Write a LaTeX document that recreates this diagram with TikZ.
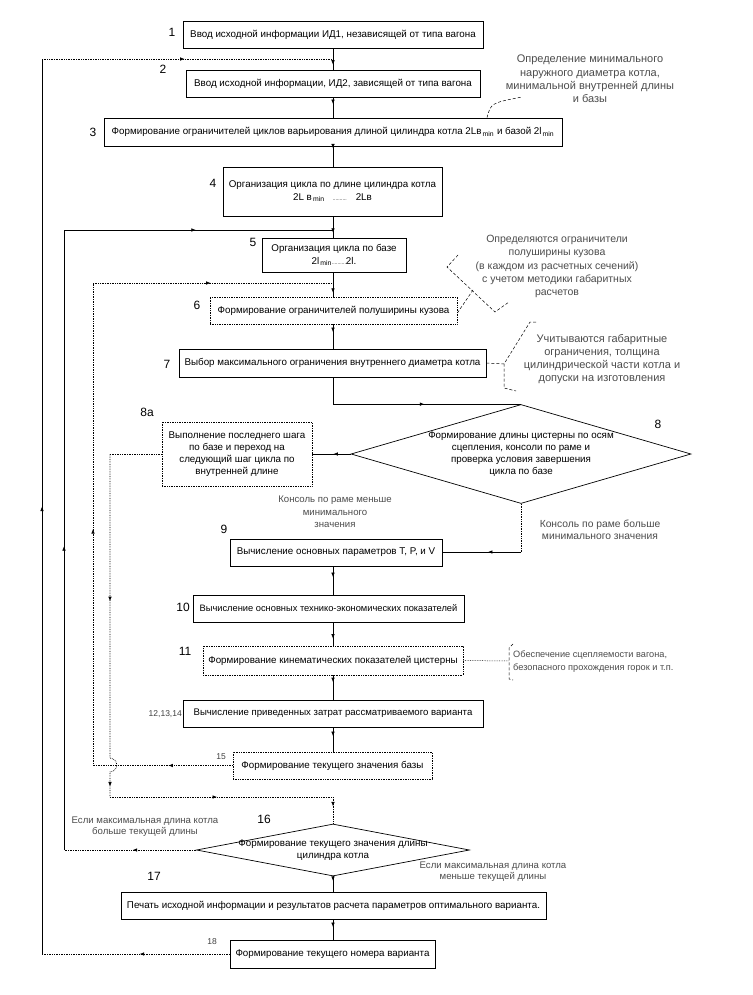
\documentclass[tikz,border=0pt]{standalone}
\usepackage{fontspec}
\setmainfont{Liberation Sans}
\usetikzlibrary{shapes.geometric,arrows.meta,decorations.markings}
\newcommand\lowsub[1]{\textsubscript{\,#1}}
\begin{document}
\begin{tikzpicture}[x=1pt,y=-1pt,
  box/.style={draw, line width=0.7pt, inner sep=0pt, align=center, font=\fontsize{9.8}{12.5}\selectfont},
  dbox/.style={box, densely dotted},
  wh/.style 2 args={minimum width=#1pt, minimum height=#2pt},
  ln/.style={line width=0.7pt},
  dl/.style={line width=0.7pt, densely dotted},
  ann/.style={font=\fontsize{10}{13.3}\selectfont, text=black!70, align=center, inner sep=0pt},
  num/.style={font=\fontsize{12}{12}\selectfont, inner sep=0pt},
  snum/.style={font=\fontsize{8.5}{9}\selectfont, text=black!75, inner sep=0pt},
  ma/.style={postaction={decorate,decoration={markings,mark=at position #1 with {\arrow{Latex[length=4.5pt,width=3.6pt]}}}}},
  ma/.default=0.5
]
\useasboundingbox (0,0) rectangle (752,995);
\fill[white] (0,0) rectangle (752,995);

% main axis and corner coordinates
\coordinate (mx) at (333,0);
\coordinate (L1) at (42,59);
\coordinate (j1) at (333,59);
\coordinate (L2) at (64,230);
\coordinate (j2) at (333,230);
\coordinate (L3) at (93,283);
\coordinate (j3) at (333,283);
\coordinate (c4a) at (110,454);
\coordinate (c4b) at (110,797);
\coordinate (c4c) at (333,797);
\coordinate (c8) at (521,552);

% boxes
\node[box, wh={300}{27}] (b1) at (333,34.5) {Ввод исходной информации ИД1, независящей от типа вагона};
\node[box, wh={294}{27}] (b2) at (333,83.5) {Ввод исходной информации, ИД2, зависящей от типа вагона};
\node[box, wh={458}{28}] (b3) at (333,132) {Формирование ограничителей циклов варьирования длиной цилиндра котла 2Lв\lowsub{min} и базой 2l\lowsub{min}};
\node[box, wh={219}{49}] (b4) at (332.5,191.5) {Организация цикла по длине цилиндра котла\\2L в\lowsub{min} \ \ {\tiny ..........} \ \ 2Lв};
\node[box, wh={144}{34}] (b5) at (334,255) {Организация цикла по базе\\2l\lowsub{min}{\tiny ..........}2l.};
\node[dbox, wh={247}{27}] (b6) at (333.5,310.5) {Формирование ограничителей полуширины кузова};
\node[box, wh={307}{28}] (b7) at (332.5,363) {Выбор максимального ограничения внутреннего диаметра котла};
\node[draw, ln, diamond, minimum width=340pt, minimum height=99pt, inner sep=0pt,
      label={[align=center, font=\fontsize{9.8}{11.8}\selectfont]center:Формирование длины цистерны по осям\\сцепления, консоли по раме и\\проверка условия завершения\\цикла по базе}] (d8) at (521,454) {};
\node[dbox, wh={150}{64}, font=\fontsize{9.8}{12}\selectfont] (b8a) at (237,454) {Выполнение последнего шага\\по базе и переход на\\следующий шаг цикла по\\внутренней длине};
\node[box, wh={212}{27}] (b9) at (336,552.5) {Вычисление основных параметров T, P, и V};
\node[box, wh={271}{27}, font=\fontsize{9.3}{12}\selectfont] (b10) at (328.5,608.5) {Вычисление основных технико-экономических показателей};
\node[dbox, wh={260}{29}] (b11) at (333,660.5) {Формирование кинематических показателей цистерны};
\node[box, wh={300}{27}, font=\fontsize{9.6}{12}\selectfont] (b12) at (333,713.5) {Вычисление приведенных затрат рассматриваемого варианта};
\node[dbox, wh={199}{27}] (b15) at (332.5,765.5) {Формирование текущего значения базы};
\node[draw, ln, diamond, minimum width=273pt, minimum height=52pt, inner sep=0pt,
      label={[align=center, font=\fontsize{9.8}{12}\selectfont]center:Формирование текущего значения длины\\цилиндра котла}] (d16) at (333,850) {};
\node[box, wh={425}{27}] (b17) at (333.5,905.5) {Печать исходной информации и результатов расчета параметров оптимального варианта.};
\node[box, wh={205}{28}] (b18) at (332.5,954) {Формирование текущего номера варианта};

% step numbers
\node[num] (n1) at (172,32) {1};
\node[num] (n2) at (163,69) {2};
\node[num] (n3) at (93,132) {3};
\node[num] (n4) at (213,183) {4};
\node[num] (n5) at (253,242) {5};
\node[num] (n6) at (197,305) {6};
\node[num] (n7) at (167,364) {7};
\node[num] (n8a) at (147,412) {8а};
\node[num] (n8) at (658,424) {8};
\node[num] (n9) at (224,529) {9};
\node[num] (n10) at (183,607) {10};
\node[num] (n11) at (185,651) {11};
\node[snum, anchor=east] (n12) at (182,714) {12,13,14};
\node[snum] (n15) at (221,757) {15};
\node[num] (n16) at (264,819) {16};
\node[num] (n17) at (154,876) {17};
\node[snum] (n18) at (212,942) {18};

% main flow
\draw[ln, ma=0.77] (b1.south -| mx) -- (b2.north -| mx);
\draw[ln, ma=0.33] (b2.south -| mx) -- (b3.north -| mx);
\draw[ln, ma=0.1] (b3.south -| mx) -- (b4.north -| mx);
\draw[ln, ma=0.77] (b4.south -| mx) -- (b5.north -| mx);
\draw[ln, ma=0.84] (b5.south -| mx) -- (b6.north -| mx);
\draw[ln, ma=0.32] (b6.south -| mx) -- (b7.north -| mx);
\draw[ln, ma=0.55] (b7.south -| mx) |- (d8.north);
\draw[ln, ma=0.45] (d8.west) -- (b8a.east);
\draw[dl] (d8.south) -- (c8);
\draw[ln, ma=0.42] (c8) -- (b9.east |- c8);
\draw[ln, ma=0.38] (b9.south -| mx) -- (b10.north -| mx);
\draw[ln, ma=0.7] (b10.south -| mx) -- (b11.north -| mx);
\draw[ln, ma=0.28] (b11.south -| mx) -- (b12.north -| mx);
\draw[ln, ma=0.36] (b12.south -| mx) -- (b15.north -| mx);
\draw[ln, ma=0.3] (d16.south) -- (b17.north -| mx);
\draw[ln, ma=0.38] (b17.south -| mx) -- (b18.north -| mx);

% loop 18 -> 2
\draw[dl, ma=0.48] (b18.west) -- (b18.west -| L1);
\draw[ln, ma=0.5] (b18.west -| L1) -- (L1);
\draw[dl, ma=0.49] (L1) -- (j1);

% loop 16 -> 5
\draw[dl, ma=0.48] (d16.west) -- (d16.west -| L2);
\draw[ln, ma=0.49] (d16.west -| L2) -- (L2);
\draw[ln, ma=0.49] (L2) -- (j2);

% loop 15 -> 6
\draw[dl, ma=0.46] (b15.west) -- (b15.west -| L3);
\draw[dl, ma=0.49] (b15.west -| L3) -- (L3);
\draw[dl, ma=0.49] (L3) -- (j3);

% 8a -> 16
\draw[dl] (b8a.west) -- (c4a);
\draw[dl, ma=0.42, ma=0.97] (c4a) -- (110,758) .. controls (119,759) and (119,771) .. (110,772) -- (c4b);
\draw[dl, ma=0.48] (c4b) -- (c4c);
\draw[dl, ma=0.35] (c4c) -- (d16.north);

% annotations
\node[ann, font=\fontsize{11}{13.3}\selectfont] (a1) at (590,79) {Определение минимального\\наружного диаметра котла,\\минимальной внутренней длины\\и базы};
\draw[densely dashed, line width=0.5pt] (b3.north -| 487,0) .. controls (491,103) .. (522,97);

\node[ann, font=\fontsize{10.5}{13.3}\selectfont] (a2) at (557,266.5) {Определяются ограничители\\полуширины кузова\\(в каждом из расчетных сечений)\\с учетом методики габаритных\\расчетов};
\draw[densely dashed, line width=0.5pt] (458,255) -- (447,267) -- (495,312) -- (509,302);
\draw[densely dashed, line width=0.5pt] (b6.east |- 0,313) -- (473,290);

\node[ann, font=\fontsize{11}{13}\selectfont] (a3) at (602,359.5) {Учитываются габаритные\\ограничения, толщина\\цилиндрической части котла и\\допуски на изготовления};
\draw[densely dashed, line width=0.5pt] (536,322) -- (530,322) -- (504,364) -- (504,388) -- (516,391);
\draw[densely dashed, line width=0.5pt] (b7.east) -- (504,364);

\node[ann, font=\fontsize{9.2}{13}\selectfont, anchor=west, align=left] (a4) at (513,661.5) {Обеспечение сцепляемости вагона,\\безопасного прохождения горок и т.п.};
\draw[densely dashed, line width=0.5pt] (513,644) -- (509,648) -- (509,679) -- (513,680);
\draw[dl, line width=0.5pt] (b11.east) -- (509,661);

% branch labels
\node[ann, font=\fontsize{9.6}{12.5}\selectfont] (t1) at (335,512) {Консоль по раме меньше\\минимального\\значения};
\node[ann, font=\fontsize{10.3}{12.5}\selectfont] (t2) at (600,530) {Консоль по раме больше\\минимального значения};
\node[ann, font=\fontsize{9.6}{11}\selectfont] (t3) at (145,826.5) {Если максимальная длина котла\\больше текущей длины};
\node[ann, font=\fontsize{9.6}{11}\selectfont] (t4) at (493,871.5) {Если максимальная длина котла\\меньше текущей длины};
\end{tikzpicture}
\end{document}
